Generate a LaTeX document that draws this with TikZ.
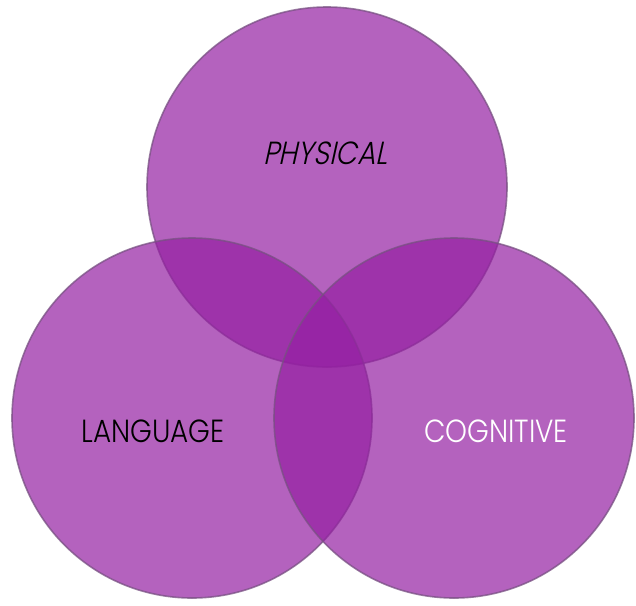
\documentclass[tikz,border=0pt]{standalone}
\usepackage{fontspec}
\newfontfamily\lab[FakeStretch=0.87]{Poppins Light}
\newfontfamily\labit[FakeStretch=0.87,FakeSlant=0.22]{Poppins Light}
\definecolor{circfill}{RGB}{148,31,162}
\definecolor{circrim}{RGB}{120,80,130}
\begin{document}
\begin{tikzpicture}[x=1pt,y=-1pt,
  venn/.style={circle,minimum size=360pt,inner sep=0pt,fill=circfill,fill opacity=0.7,
    draw=circrim,draw opacity=0.75,line width=1.6pt},
  vlabel/.style={font=\lab\fontsize{32}{32}\selectfont,inner sep=0pt}]
\useasboundingbox (0,0) rectangle (636,605);
\node[venn] (phys) at (327,187) {};
\node[venn] (lang) at (192,418) {};
\node[venn] (cogn) at (454,418) {};
\node[vlabel,font=\labit\fontsize{32}{32}\selectfont,text=black] (tphys) at (325,153) {PHYSICAL};
\node[vlabel,text=black] (tlang) at (153,431) {LANGUAGE};
\node[vlabel,text=white] (tcogn) at (496,431) {COGNITIVE};
\end{tikzpicture}
\end{document}
